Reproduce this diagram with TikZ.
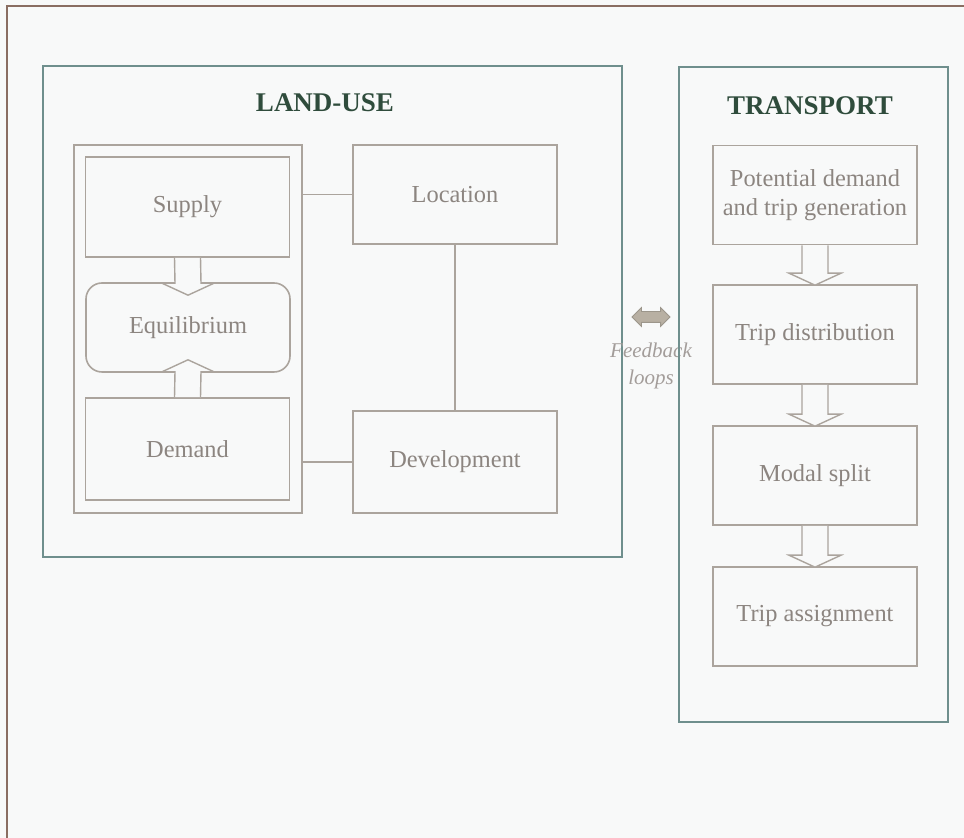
\documentclass[tikz,border=0pt]{standalone}
\usepackage{fontspec}
\setmainfont{Liberation Serif}
\usetikzlibrary{calc,shapes.arrows}

\definecolor{pagebg}{HTML}{F8F9F9}
\definecolor{framebrown}{HTML}{8A6E62}
\definecolor{tealframe}{HTML}{6F8F8D}
\definecolor{boxgray}{HTML}{ABA49D}
\definecolor{txtgray}{HTML}{8C8580}
\definecolor{titlegreen}{HTML}{2F4C3C}
\definecolor{fbfill}{HTML}{B8B0A3}

\tikzset{
  box/.style={draw=boxgray, line width=0.8pt, text=txtgray, align=center,
    inner sep=0pt, minimum width=102pt, minimum height=50pt,
    font=\fontsize{12.2}{14.5}\selectfont},
  group/.style={draw=tealframe, line width=1.2pt, inner sep=0pt},
  title/.style={text=titlegreen, font=\bfseries\fontsize{13.5}{16}\selectfont},
  blockarr/.style={draw=boxgray, line width=0.7pt, fill=pagebg},
  link/.style={draw=boxgray, line width=0.8pt},
  fbtext/.style={text=txtgray!80, align=center, font=\itshape\fontsize{10.5}{13.5}\selectfont}
}

% block arrow pointing down: from node, to node, overlap of the tip
\newcommand{\blockdown}[3]{%
  \draw[blockarr] ($(#1.south)+(-13,0)$) -- ($(#2.north)+(-13,#3-12)$)
    -- ($(#2.north)+(-26,#3-12)$) -- ($(#2.north)+(0,#3)$)
    -- ($(#2.north)+(26,#3-12)$) -- ($(#2.north)+(13,#3-12)$)
    -- ($(#1.south)+(13,0)$);}
% block arrow pointing up
\newcommand{\blockup}[3]{%
  \draw[blockarr] ($(#1.north)+(-13,0)$) -- ($(#2.south)+(-13,12-#3)$)
    -- ($(#2.south)+(-26,12-#3)$) -- ($(#2.south)+(0,-#3)$)
    -- ($(#2.south)+(26,12-#3)$) -- ($(#2.south)+(13,12-#3)$)
    -- ($(#1.north)+(13,0)$);}

\begin{document}
\begin{tikzpicture}[x=0.5pt, y=-0.5pt]

% Page
\fill[pagebg] (0,0) rectangle (964,838);
\useasboundingbox (0,0) rectangle (964,838);
\draw[framebrown, line width=1pt] (7,838) -- (7,6) -- (964,6);

% Land-use side
\node[group, minimum width=289.5pt, minimum height=245.5pt] (landuse) at (332.5,311.5) {};
\node[title] (lutitle) at (325,103) {LAND-USE};
\node[draw=boxgray, line width=0.8pt, inner sep=0pt, minimum width=114pt, minimum height=184pt] (market) at (188,329) {};

\node[box] (supply) at (187.5,207) {Supply};
\node[box, rounded corners=8pt, minimum height=44.5pt] (equil) at (188,327.5) {Equilibrium};
\node[box, minimum height=51pt] (demand) at (187.5,449) {Demand};

\node[box, minimum height=49.5pt] (location) at (455,194.5) {Location};
\node[box, minimum height=51pt] (develop) at (455,462) {Development};

% Links
\draw[link] (location.west) -- (location.west -| market.east);
\draw[link] (develop.west) -- (develop.west -| market.east);
\draw[link] (location) -- (develop);

% Market arrows
\blockdown{supply}{equil}{13}
\blockup{demand}{equil}{13}

% Feedback loops
\node[double arrow, fill=fbfill, draw=fbfill!85!black, line width=0.4pt,
  minimum height=19pt, inner xsep=0pt, inner ysep=2.5pt,
  double arrow head extend=2pt] (feedback) at (651,317) {};
\node[fbtext] (fblabel) at (651,366) {Feedback\\loops};

% Transport side
\node[group, minimum width=134.5pt, minimum height=327.5pt] (transport) at (813.5,394.5) {};
\node[title] (trtitle) at (810,106) {TRANSPORT};

\foreach \nm/\yy/\txt in {pot/195/{Potential demand\\and trip generation},
    dist/334.5/{Trip distribution}, modal/475.5/{Modal split},
    assign/616.5/{Trip assignment}} {
  \node[box, minimum height=49.5pt] (\nm) at (815,\yy) {\txt};
}

\foreach \a/\b in {pot/dist, dist/modal, modal/assign} {
  \blockdown{\a}{\b}{1}
}

\end{tikzpicture}
\end{document}
